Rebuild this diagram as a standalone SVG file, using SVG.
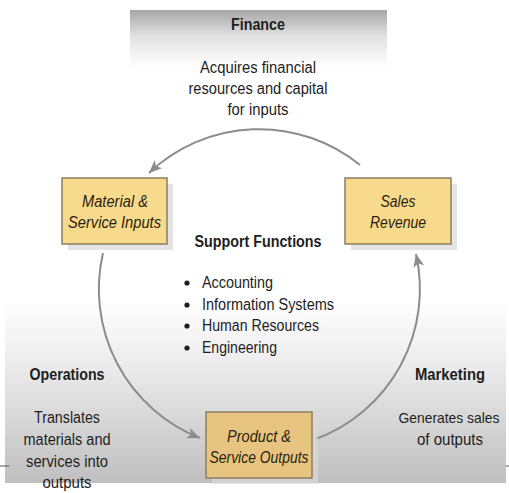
<svg xmlns="http://www.w3.org/2000/svg" width="509" height="493" viewBox="0 0 509 493">
<style>
text{font-family:"Liberation Sans",Arial,sans-serif;fill:#1e1e1e}
.h{font-weight:bold;font-size:16px}
.b{font-size:16px}
.n{font-style:italic;font-size:16px;fill:#2b1d0e}
.box{fill:#f8da8c;stroke:#8a7d62;stroke-width:1.5}
.sh{fill:#d9d9d9;opacity:0.7}
.arc{fill:none;stroke:#8c8c8c;stroke-width:2}
</style>
<defs>
<linearGradient id="gTop" x1="0" y1="0" x2="0" y2="1">
<stop offset="0" stop-color="#a6a6a6"/>
<stop offset="0.45" stop-color="#e2e2e2"/>
<stop offset="1" stop-color="#ffffff"/>
</linearGradient>
<linearGradient id="gBot" x1="0" y1="0" x2="0" y2="1">
<stop offset="0" stop-color="#ffffff"/>
<stop offset="0.35" stop-color="#ececec"/>
<stop offset="1" stop-color="#bfbfbf"/>
</linearGradient>
<marker id="ah" viewBox="-13 -6 14 12" refX="0" refY="0" markerWidth="14" markerHeight="12" markerUnits="userSpaceOnUse" orient="auto">
<path d="M0,0 L-13,-5.5 L-9.5,0 L-13,5.5 Z" fill="#8c8c8c"/>
</marker>
</defs>
<rect width="509" height="493" fill="#ffffff"/>
<rect x="130" y="10" width="257" height="58" fill="url(#gTop)"/>
<rect x="5" y="300" width="501" height="183" fill="url(#gBot)"/>
<line x1="0" y1="466" x2="9" y2="466" stroke="#555" stroke-width="1"/>
<line x1="506" y1="466" x2="509" y2="466" stroke="#555" stroke-width="1"/>

<g id="connectors">
<path class="arc" d="M360,165 A160,160 0 0 0 149,173" marker-end="url(#ah)"/>
<path class="arc" d="M103,253 A160,160 0 0 0 200,438" marker-end="url(#ah)"/>
<path class="arc" d="M316,439 A160,160 0 0 0 416,254" marker-end="url(#ah)"/>
</g>

<g id="finance">
<text class="h" x="258" y="30" text-anchor="middle" textLength="54" lengthAdjust="spacingAndGlyphs">Finance</text>
<text class="b" x="258" y="73" text-anchor="middle" textLength="116" lengthAdjust="spacingAndGlyphs">Acquires financial</text>
<text class="b" x="258" y="94" text-anchor="middle" textLength="139" lengthAdjust="spacingAndGlyphs">resources and capital</text>
<text class="b" x="258" y="115" text-anchor="middle" textLength="61" lengthAdjust="spacingAndGlyphs">for inputs</text>
</g>

<g id="material-inputs">
<rect class="sh" x="68" y="184" width="105" height="66"/>
<rect class="box" x="62" y="178" width="105" height="66"/>
<text class="n" x="115" y="207" text-anchor="middle" textLength="66" lengthAdjust="spacingAndGlyphs">Material &amp;</text>
<text class="n" x="114.5" y="228" text-anchor="middle" textLength="93" lengthAdjust="spacingAndGlyphs">Service Inputs</text>
</g>

<g id="sales-revenue">
<rect class="sh" x="351" y="184" width="106" height="66"/>
<rect class="box" x="345" y="178" width="106" height="66"/>
<text class="n" x="398" y="207" text-anchor="middle" textLength="35" lengthAdjust="spacingAndGlyphs">Sales</text>
<text class="n" x="398" y="228" text-anchor="middle" textLength="56" lengthAdjust="spacingAndGlyphs">Revenue</text>
</g>

<g id="product-outputs">
<rect class="sh" x="212" y="418" width="106" height="66"/>
<rect class="box" x="206" y="412" width="106" height="66" style="fill:#e7c581"/>
<text class="n" x="259" y="442" text-anchor="middle" textLength="64" lengthAdjust="spacingAndGlyphs">Product &amp;</text>
<text class="n" x="259" y="463" text-anchor="middle" textLength="99" lengthAdjust="spacingAndGlyphs">Service Outputs</text>
</g>

<g id="support-functions">
<text class="h" x="258" y="247" text-anchor="middle" textLength="127" lengthAdjust="spacingAndGlyphs">Support Functions</text>
<circle cx="187" cy="283" r="2.6" fill="#1e1e1e"/>
<circle cx="187" cy="305" r="2.6" fill="#1e1e1e"/>
<circle cx="187" cy="326" r="2.6" fill="#1e1e1e"/>
<circle cx="187" cy="348" r="2.6" fill="#1e1e1e"/>
<text class="b" x="202" y="288" textLength="71" lengthAdjust="spacingAndGlyphs">Accounting</text>
<text class="b" x="202" y="310" textLength="132" lengthAdjust="spacingAndGlyphs">Information Systems</text>
<text class="b" x="202" y="331" textLength="117" lengthAdjust="spacingAndGlyphs">Human Resources</text>
<text class="b" x="202" y="353" textLength="75" lengthAdjust="spacingAndGlyphs">Engineering</text>
</g>

<g id="operations">
<text class="h" x="67" y="380" text-anchor="middle" textLength="75" lengthAdjust="spacingAndGlyphs">Operations</text>
<text class="b" x="67" y="423" text-anchor="middle" textLength="66" lengthAdjust="spacingAndGlyphs">Translates</text>
<text class="b" x="67" y="445" text-anchor="middle" textLength="87" lengthAdjust="spacingAndGlyphs">materials and</text>
<text class="b" x="67" y="467" text-anchor="middle" textLength="82" lengthAdjust="spacingAndGlyphs">services into</text>
<text class="b" x="67" y="488" text-anchor="middle" textLength="49" lengthAdjust="spacingAndGlyphs">outputs</text>
</g>

<g id="marketing">
<text class="h" x="450" y="380" text-anchor="middle" textLength="70" lengthAdjust="spacingAndGlyphs">Marketing</text>
<text class="b" x="449" y="423" text-anchor="middle" style="font-size:14.5px" textLength="101" lengthAdjust="spacingAndGlyphs">Generates sales</text>
<text class="b" x="450" y="445" text-anchor="middle" textLength="66" lengthAdjust="spacingAndGlyphs">of outputs</text>
</g>
</svg>
